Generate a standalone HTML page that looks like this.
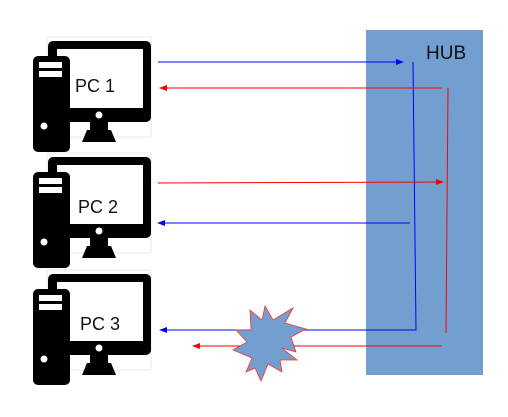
<!DOCTYPE html>
<html><head><style>html,body{margin:0;padding:0;background:#fff}</style></head>
<body>
<svg width="508" height="417" viewBox="0 0 508 417" xmlns="http://www.w3.org/2000/svg" style="display:block">
<defs>
<marker id="ab" markerWidth="8" markerHeight="6" refX="7" refY="3" orient="auto" markerUnits="userSpaceOnUse"><path d="M0,0 L8,3 L0,6 z" fill="#0000ff"/></marker>
<marker id="ar" markerWidth="8" markerHeight="6" refX="7" refY="3" orient="auto" markerUnits="userSpaceOnUse"><path d="M0,0 L8,3 L0,6 z" fill="#ff0000"/></marker>
<g id="pc">
<rect x="47" y="37" width="104" height="100" fill="none" stroke="#ddd" stroke-width="0.6"/>
<rect x="48" y="41" width="103" height="81" rx="5" fill="#000"/>
<rect x="57" y="49" width="86" height="59" fill="#fff"/>
<circle cx="99" cy="115" r="3.5" fill="#fff"/>
<rect x="90" y="122" width="18" height="10" fill="#000"/>
<path d="M82,142 L87,130 L111,130 L116,142 Z" fill="#000"/>
<rect x="33" y="56" width="37" height="96" rx="5" fill="#000"/>
<rect x="39" y="62" width="23" height="6" fill="#fff"/>
<rect x="39" y="71" width="23" height="6" fill="#fff"/>
<circle cx="44" cy="126" r="3.5" fill="#fff"/>
</g>
</defs>
<rect x="366" y="30" width="117" height="345" fill="#729fcf"/>
<text x="426" y="59" font-family="Liberation Sans, sans-serif" font-size="19" fill="#111">HUB</text>
<use href="#pc"/>
<use href="#pc" y="116"/>
<use href="#pc" y="233"/>
<text x="75" y="92" font-family="Liberation Sans, sans-serif" font-size="18" fill="#111">PC 1</text>
<text x="78" y="213" font-family="Liberation Sans, sans-serif" font-size="18" fill="#111">PC 2</text>
<text x="80" y="330" font-family="Liberation Sans, sans-serif" font-size="18" fill="#111">PC 3</text>
<g fill="none" stroke-width="1">
<line x1="158" y1="62" x2="403" y2="62" stroke="#0000ff" marker-end="url(#ab)"/>
<polyline points="413,62 416,330 160,330" stroke="#0000ff" marker-end="url(#ab)"/>
<line x1="410" y1="223" x2="158" y2="223" stroke="#0000ff" marker-end="url(#ab)"/>
<line x1="442" y1="88" x2="160" y2="88" stroke="#ff0000" marker-end="url(#ar)"/>
<line x1="448" y1="88" x2="446" y2="333" stroke="#ff0000"/>
<line x1="158" y1="183" x2="443" y2="182" stroke="#ff0000" marker-end="url(#ar)"/>
<line x1="442" y1="346" x2="193" y2="346" stroke="#ff0000" marker-end="url(#ar)"/>
</g>
<polygon points="250,310 262,320 265,306 273,320 293,308 285,323 306,329 291,337 296,352 282,348 297,360 280,360 282,372 268,364 261,381 255,368 246,372 252,358 233,350 247,342 236,330 251,330" fill="#729fcf" stroke="#ff3030" stroke-width="0.8"/>
</svg>
</body></html>
